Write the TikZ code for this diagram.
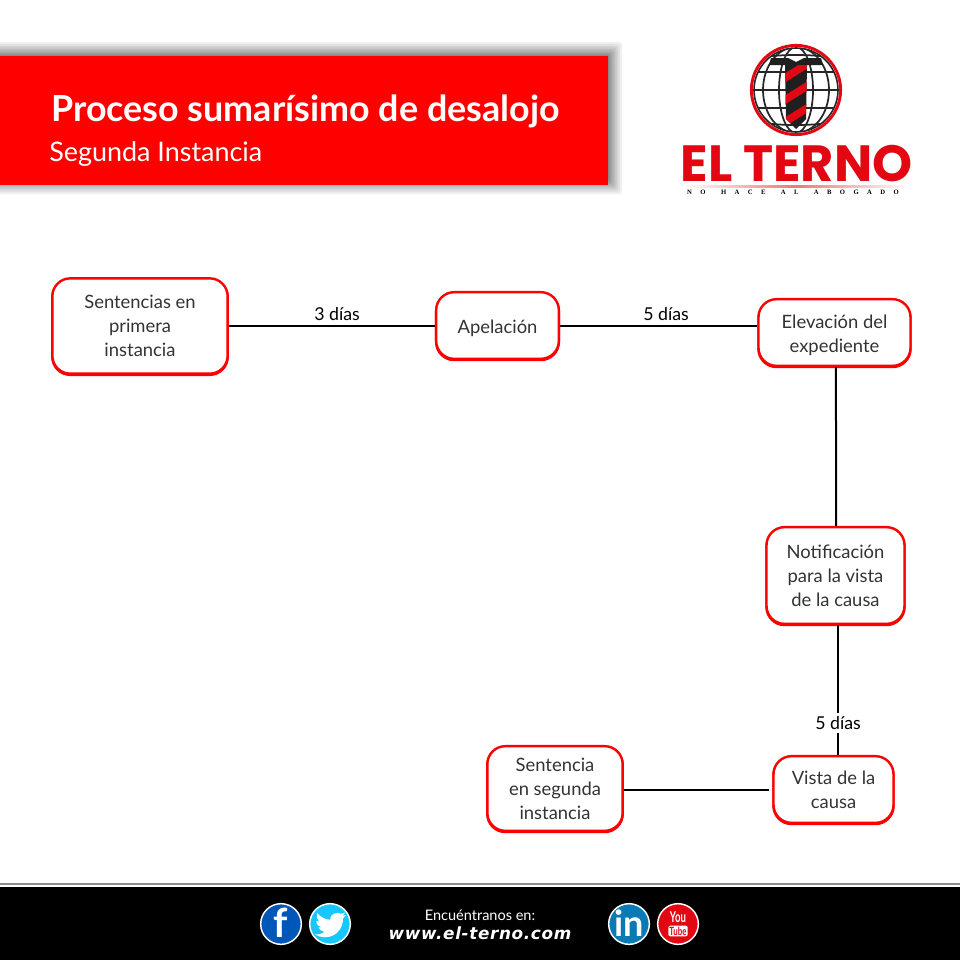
\documentclass[tikz,border=0pt]{standalone}
\usepackage{fontspec}
\usepackage{xcolor}
\usepackage{graphicx}
\setmainfont{Lato}
\newfontfamily\logofont{Poppins}
\newfontfamily\slogfont[LetterSpace=126]{Liberation Serif}
\newfontfamily\webfont[LetterSpace=4]{DejaVu Sans}
\usetikzlibrary{shadows}
\definecolor{terno}{HTML}{E30613}
\definecolor{rojo}{HTML}{FF0000}
\definecolor{tinta}{HTML}{333333}
\definecolor{facecol}{HTML}{0057B8}
\definecolor{twitcol}{HTML}{18C7FF}
\definecolor{linkcol}{HTML}{0A7AB5}
\newcommand{\bajar}{\rule{0pt}{14.8pt}}

\begin{document}
\begin{tikzpicture}[x=0.75pt,y=-0.75pt,
        box/.style={draw=rojo, fill=white, line width=1.8pt, rounded corners=13.5pt, align=center,
            text=tinta, font=\fontsize{13.8}{18}\selectfont, inner sep=0pt,
            general shadow={shadow xshift=0pt, shadow yshift=-0.9pt, draw=rojo, fill=rojo}},
        lbl/.style={font=\fontsize{13.3}{16}\selectfont, inner sep=1pt},
        conn/.style={line width=1.5pt},
        icon/.style={circle, draw=white, line width=1.1pt, minimum size=30.5pt, inner sep=0pt},
        globo/.style={line width=1.3pt, draw=black!85}]
    \useasboundingbox (0, 0) rectangle (960, 960);

    \foreach \dd in {1, 2, ..., 16}
        \fill[black, opacity=0.06, rounded corners=2pt]
            (-30, 58 - \dd*\dd/16) rectangle (606 + \dd*\dd/16, 178 + \dd*\dd/16);
    \node[inner sep=0pt, minimum width=456pt, minimum height=96.75pt, fill=rojo] (banner) at (304, 120.5) {};
    \node[anchor=west, text=white, inner sep=0pt, font=\bfseries\fontsize{26.9}{30}\selectfont] (titulo)
        at (51, 111.5) {Proceso sumarísimo de desalojo};
    \node[anchor=west, text=white, inner sep=0pt, font=\fontsize{20.2}{24}\selectfont] (subtitulo)
        at (49, 154.5) {Segunda Instancia};

    \begin{scope}
        \clip (796, 90) circle (42);
        \fill[white] (796, 90) circle (42);
        \foreach \rx in {17, 33}
            \draw[globo] (796, 90) ellipse ({\rx} and 43);
        \draw[globo] (750, 90) -- (842, 90);
        \draw[globo] (750, 72) -- (842, 72);
        \draw[globo] (750, 108) -- (842, 108);
        \draw[globo] (756, 58) .. controls (780, 54) and (812, 54) .. (836, 58);
        \draw[globo] (756, 122) .. controls (780, 126) and (812, 126) .. (836, 122);
    \end{scope}
    \draw[black!85, line width=1.2pt] (796, 90) circle (42);
    \draw[terno, line width=2.2pt] (796, 90) circle (44.6);
    \fill[black!88] (771, 58) -- (788, 58) -- (796, 62) -- (804, 58) -- (821, 58) -- (823, 65) -- (769, 65) -- cycle;
    \fill[black!88] (785, 65) -- (807, 65) -- (806, 119) -- (796, 129) -- (786, 119) -- cycle;
    \begin{scope}
        \clip (785, 65) -- (807, 65) -- (806, 119) -- (796, 129) -- (786, 119) -- cycle;
        \foreach \yy in {74, 96, 118}
            \fill[terno] (784, \yy) -- (808, \yy - 15) -- (808, \yy - 6) -- (784, \yy + 9) -- cycle;
    \end{scope}
    \node[text=terno, inner sep=0pt, font=\logofont\bfseries\fontsize{38.2}{40}\selectfont] (marca)
        at (796.5, 164) {EL TERNO};
    \shade[left color=white, right color=terno!55, draw=none] (683, 185.5) rectangle (796, 187);
    \shade[right color=white, left color=terno!55, draw=none] (796, 185.5) rectangle (910, 187);
    \node[text=black, inner sep=0pt, font=\slogfont\bfseries\fontsize{5}{6}\selectfont] (lema)
        at (793, 192) {NO\hspace{4pt} HACE\hspace{4pt} AL\hspace{4pt} ABOGADO};

    \node[box, minimum width=131.5pt, minimum height=71.5pt] (primera) at (140, 326)
        {Sentencias en\\primera\\instancia};
    \node[box, minimum width=92pt, minimum height=50pt] (apelacion) at (497.5, 325.5) {\bajar Apelación};
    \node[box, minimum width=114pt, minimum height=50pt] (elevacion) at (834.5, 332.5)
        {\bajar Elevación del\\expediente};
    \node[box, minimum width=103.5pt, minimum height=72.5pt] (notificacion) at (835.5, 575.5)
        {Notificación\\para la vista\\de la causa};
    \node[box, minimum width=90pt, minimum height=50pt] (vista) at (833.5, 789.5)
        {Vista de la\\causa};
    \node[box, minimum width=101.5pt, minimum height=63.5pt] (segunda) at (555, 788.5)
        {Sentencia\\en segunda\\instancia};

    \node[lbl] (dias1) at (337, 314) {3 días};
    \node[lbl] (dias2) at (666, 314) {5 días};
    \node[lbl, inner ysep=2pt] (dias3) at (838, 723) {5 días};

    \draw[conn] (primera.east |- apelacion) -- (apelacion.west);
    \draw[conn] (apelacion.east) -- (apelacion.east -| elevacion.west);
    \draw[conn] ([xshift=1.1pt]elevacion.south) -- ([xshift=0.4pt]notificacion.north);
    \draw[conn] (notificacion.south -| dias3) -- (dias3.north);
    \draw[conn] (dias3.south) -- (dias3 |- vista.north);
    \draw[conn] ([xshift=-2.5pt]vista.west) -- (vista.west -| segunda.east);

    \fill[black!45] (0, 883) rectangle (960, 884.5);
    \fill[black] (0, 887) rectangle (960, 960);
    \node[icon, fill=facecol] (face) at (281, 924) {};
    \node[icon, fill=twitcol] (twit) at (330, 924) {};
    \node[icon, fill=linkcol] (link) at (629, 924) {};
    \node[icon, fill=terno] (yout) at (678, 924) {};
    \node[text=white, inner sep=0pt, font=\bfseries\fontsize{30}{30}\selectfont] (letraf) at (281, 923) {f};
    \begin{scope}[shift={(315, 909)}, x=0.975pt, y=-0.975pt]
        \fill[white] (23.95, 4.57) -- (21.13, 5.34) -- (23.29, 2.62) -- (20.16, 3.8)
            .. controls (18, 1.5) and (10.5, 4) .. (11.78, 8.28)
            .. controls (7.69, 8.1) and (4.07, 6.13) .. (1.64, 3.16)
            .. controls (0.97, 5.64) and (1.5, 8.2) .. (3.16, 9.74)
            -- (0.93, 9.12)
            .. controls (1, 12) and (3, 13.6) .. (4.88, 14.01)
            -- (2.67, 14.09)
            .. controls (3.5, 16) and (5.3, 17.4) .. (7.27, 17.51)
            .. controls (5.5, 19) and (2.5, 19.8) .. (0, 19.54)
            .. controls (2.2, 20.9) and (4.8, 21.75) .. (7.55, 21.75)
            .. controls (16.6, 21.75) and (21.55, 14.25) .. (21.55, 7.75)
            -- (21.54, 7.12) -- (24, 4.59) -- cycle;
    \end{scope}
    \node[text=white, inner sep=0pt, font=\bfseries\fontsize{27}{27}\selectfont] (letrain) at (629, 923) {in};
    \node[text=white, inner sep=0pt, font=\bfseries\fontsize{9}{9}\selectfont] (you) at (678, 917)
        {\scalebox{0.8}[1.25]{You}};
    \node[fill=white, text=terno, rounded corners=1.5pt, inner sep=0.8pt, font=\bfseries\fontsize{8.5}{8}\selectfont] (tube)
        at (678, 931) {\scalebox{0.7}[1]{Tube}};

    \node[text=white, inner sep=0pt, font=\fontsize{10.9}{12}\selectfont] (encuentra) at (480, 915) {Encuéntranos en:};
    \node[text=white, inner sep=0pt, font=\webfont\bfseries\itshape\fontsize{12.6}{14}\selectfont] (web) at (480, 933)
        {www.el-terno.com};
\end{tikzpicture}
\end{document}
